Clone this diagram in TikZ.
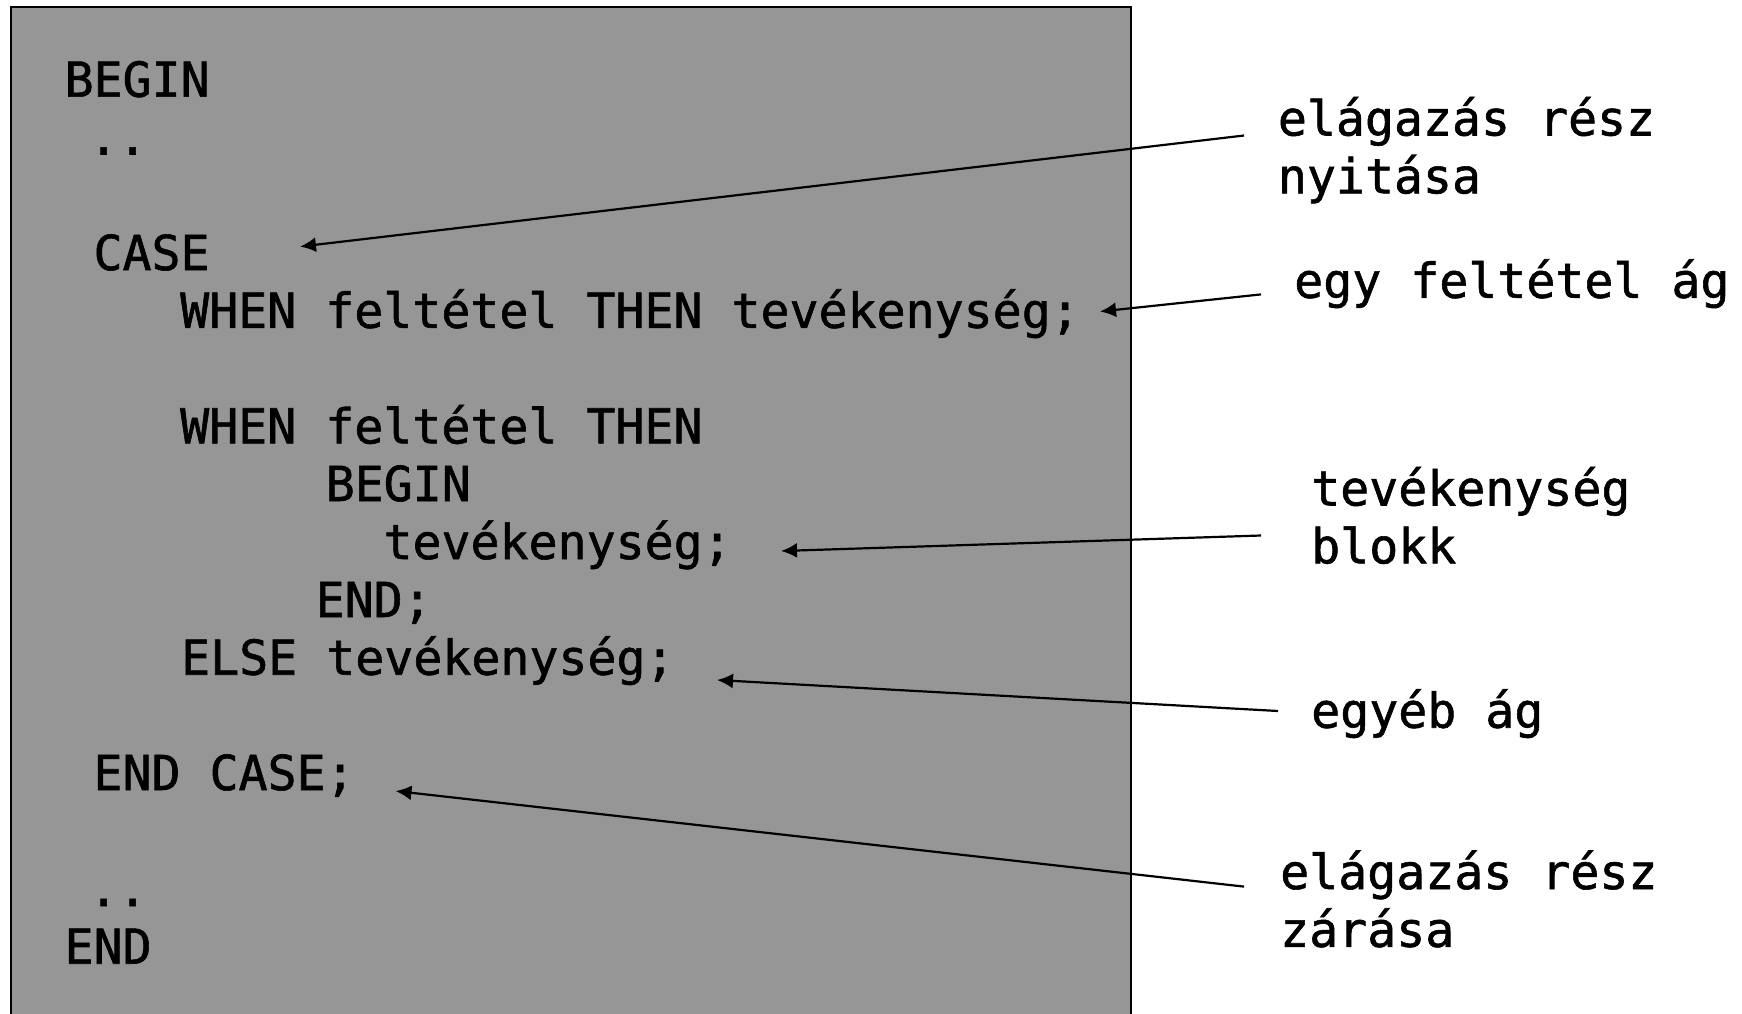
\documentclass[tikz,border=0pt]{standalone}
\usepackage{fontspec}
\newfontfamily\codefont[FakeBold=1.2]{DejaVu Sans Mono}
\usetikzlibrary{arrows.meta}
\definecolor{panelgray}{RGB}{150,150,150}
\tikzset{
  code/.style={anchor=base west, inner sep=0pt, font=\codefont\fontsize{48.2bp}{57.8bp}\selectfont, text=black},
  pointer/.style={draw=black, line width=2.2bp, -{Latex[length=16bp,width=15bp]}}
}
\begin{document}
\begin{tikzpicture}[x=1bp,y=-1bp]
  \useasboundingbox (0,0) rectangle (1742,1013);
  \fill[white] (0,0) rectangle (1742,1013);
  % code panel
  \draw[fill=panelgray, draw=black, line width=2.4bp] (11,7) rectangle (1131,1020);

  % program text
  \node[code] (l0)  at (64.4,96.7)  {BEGIN};
  \node[code] (l1)  at (89,154.5)   {..};
  \node[code] (l3)  at (93.3,270)   {CASE};
  \node[code] (l4)  at (180,327.8)  {WHEN feltétel THEN tevékenység;};
  \node[code] (l6)  at (180,443.4)  {WHEN feltétel THEN};
  \node[code] (l7)  at (325.5,501)  {BEGIN};
  \node[code] (l8)  at (383.3,559)  {tevékenység;};
  \node[code] (l9)  at (315.5,617)  {END;};
  \node[code] (l10) at (181,674.7)  {ELSE tevékenység;};
  \node[code] (l12) at (93.3,790)   {END CASE;};
  \node[code] (l14) at (89,906)     {..};
  \node[code] (l15) at (64.4,963.7) {END};

  % annotations
  \node[code] (n1a) at (1277.7,135.5) {elágazás rész};
  \node[code] (n1b) at (1277.7,193.3) {nyitása};
  \node[code] (n2)  at (1294,297.8)   {egy feltétel ág};
  \node[code] (n3a) at (1311,505.5)   {tevékenység};
  \node[code] (n3b) at (1311,563.3)   {blokk};
  \node[code] (n4)  at (1311,727.7)   {egyéb ág};
  \node[code] (n5a) at (1280,889)     {elágazás rész};
  \node[code] (n5b) at (1280,946.8)   {zárása};

  % arrow end points
  \coordinate (s1) at (1244,135.5);  \coordinate (t1) at (300,246.6);
  \coordinate (s2) at (1261,294.4);  \coordinate (t2) at (1100,311.5);
  \coordinate (s3) at (1261,535.5);  \coordinate (t3) at (781,551);
  \coordinate (s4) at (1278,711);    \coordinate (t4) at (717,680);
  \coordinate (s5) at (1244,886.6);  \coordinate (t5) at (395.5,791);

  \draw[pointer] (s1) -- (t1);
  \draw[pointer] (s2) -- (t2);
  \draw[pointer] (s3) -- (t3);
  \draw[pointer] (s4) -- (t4);
  \draw[pointer] (s5) -- (t5);
\end{tikzpicture}
\end{document}
